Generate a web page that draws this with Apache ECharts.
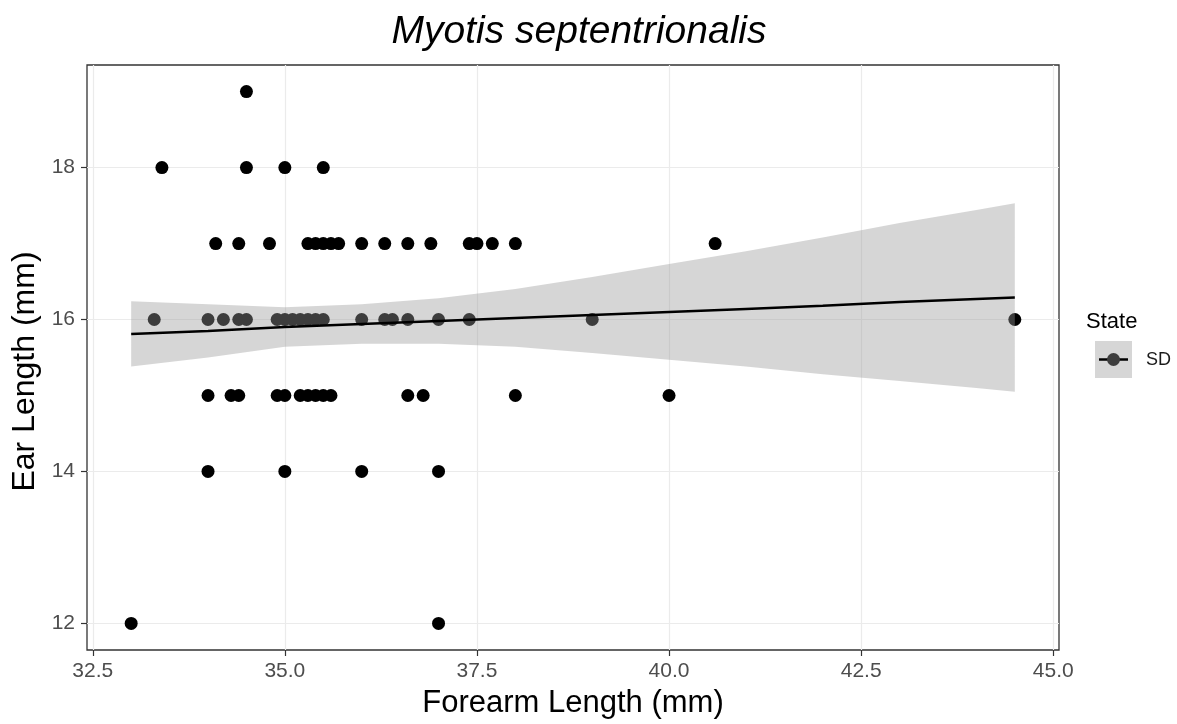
<!DOCTYPE html>
<html>
<head>
<meta charset="utf-8">
<script src="https://cdn.jsdelivr.net/npm/echarts@6/dist/echarts.min.js"></script>
<style>
  html, body { margin: 0; padding: 0; background: #fff; }
  #chart { width: 1177px; height: 724px; }
</style>
</head>
<body>
<div id="chart"></div>
<script>
// forearm / ear measurements, grouped by ear length
const ear19 = [34.5]
const ear18 = [33.4, 34.5, 35.0, 35.5]
const ear17 = [34.1, 34.4, 34.8, 35.3, 35.4, 35.5, 35.6, 35.7, 36.0, 36.3, 36.6, 36.9, 37.4, 37.5, 37.7, 38.0, 40.6]
const ear16 = [33.3, 34.0, 34.2, 34.4, 34.5, 34.9, 35.0, 35.1, 35.2, 35.3, 35.4, 35.5, 36.0, 36.3, 36.4, 36.6, 37.0, 37.4, 39.0, 44.5]
const ear15 = [34.0, 34.3, 34.4, 34.9, 35.0, 35.2, 35.3, 35.4, 35.5, 35.6, 36.6, 36.8, 38.0, 40.0]
const ear14 = [34.0, 35.0, 36.0, 37.0]
const ear12 = [33.0, 37.0]

// lm fit and its confidence band
const fitX = [33, 34, 35, 36, 37, 38, 39, 40, 41, 42, 43, 44, 44.5]
const fitY = [15.81, 15.85, 15.90, 15.94, 15.98, 16.02, 16.06, 16.10, 16.14, 16.18, 16.23, 16.27, 16.29]
const bandLow = [15.38, 15.50, 15.64, 15.68, 15.68, 15.64, 15.56, 15.47, 15.38, 15.28, 15.19, 15.10, 15.05]
const bandHigh = [16.24, 16.20, 16.16, 16.20, 16.28, 16.40, 16.56, 16.73, 16.90, 17.08, 17.27, 17.44, 17.53]

const xTicks = [32.5, 35.0, 37.5, 40.0, 42.5, 45.0]
const yTicks = [12, 14, 16, 18]

const FONT = 'Liberation Sans, Arial, sans-serif'

function pairs(xs, y) {
  return xs.map(x => [x, y])
}

const points = [].concat(
  pairs(ear19, 19), pairs(ear18, 18), pairs(ear17, 17), pairs(ear16, 16),
  pairs(ear15, 15), pairs(ear14, 14), pairs(ear12, 12)
)

// polygon of the se band: upper edge left->right, lower edge right->left
function renderBand(params, api) {
  if (params.dataIndex !== 0) return
  const pts = []
  for (let i = 0; i < fitX.length; i++) pts.push(api.coord([fitX[i], bandHigh[i]]))
  for (let i = fitX.length - 1; i >= 0; i--) pts.push(api.coord([fitX[i], bandLow[i]]))
  return {
    type: 'polygon',
    shape: { points: pts },
    style: { fill: 'rgba(153,153,153,0.4)' }
  }
}

const chart = echarts.init(document.getElementById('chart'))

const option = {
  backgroundColor: '#fff',
  animation: false,
  title: {
    text: 'Myotis septentrionalis',
    left: 574,
    top: 8,
    textAlign: 'center',
    textStyle: { fontFamily: FONT, fontStyle: 'italic', fontWeight: 'normal', fontSize: 39, color: '#000' }
  },
  grid: {
    left: 87, right: 118, top: 65, bottom: 71,
    show: true, borderColor: '#333', borderWidth: 1.3, backgroundColor: '#fff'
  },
  xAxis: {
    type: 'value',
    min: 32.425,
    max: 45.075,
    name: 'Forearm Length (mm)',
    nameLocation: 'middle',
    nameGap: 38,
    nameTextStyle: { fontFamily: FONT, fontSize: 31, color: '#000' },
    axisLine: { show: false },
    axisTick: { show: true, length: 6, customValues: xTicks, lineStyle: { color: '#333', width: 1.2 } },
    axisLabel: {
      customValues: xTicks, margin: 11,
      fontFamily: FONT, fontSize: 21, color: '#4d4d4d',
      formatter: v => v.toFixed(1)
    },
    splitLine: { show: true, customValues: xTicks, lineStyle: { color: '#ebebeb', width: 1.2 } }
  },
  yAxis: {
    type: 'value',
    min: 11.65,
    max: 19.35,
    name: 'Ear Length (mm)',
    nameLocation: 'middle',
    nameGap: 41,
    nameTextStyle: { fontFamily: FONT, fontSize: 32, color: '#000', padding: [0, 28, 0, 0] },
    axisLine: { show: false },
    axisTick: { show: true, length: 6, customValues: yTicks, lineStyle: { color: '#333', width: 1.2 } },
    axisLabel: { customValues: yTicks, margin: 12, fontFamily: FONT, fontSize: 21, color: '#4d4d4d' },
    splitLine: { show: true, customValues: yTicks, lineStyle: { color: '#ebebeb', width: 1.2 } }
  },
  series: [
    {
      name: 'SD',
      type: 'scatter',
      data: points,
      symbol: 'circle',
      symbolSize: 13,
      itemStyle: { color: '#000', opacity: 1 },
      z: 2
    },
    {
      name: 'band',
      type: 'custom',
      data: [0],
      renderItem: renderBand,
      silent: true,
      z: 3
    },
    {
      name: 'fit',
      type: 'line',
      data: fitX.map((x, i) => [x, fitY[i]]),
      showSymbol: false,
      lineStyle: { color: '#000', width: 2.5 },
      z: 4
    }
  ],
  graphic: [
    {
      type: 'text', left: 1086, top: 311,
      style: { text: 'State', fontFamily: FONT, fontSize: 22, fill: '#000' }
    },
    {
      type: 'rect', shape: { x: 1095, y: 341, width: 37, height: 37 },
      style: { fill: '#d6d6d6' }
    },
    {
      type: 'line', shape: { x1: 1099, y1: 359.5, x2: 1128, y2: 359.5 },
      style: { stroke: '#000', lineWidth: 2.5 }
    },
    {
      type: 'circle', shape: { cx: 1113.5, cy: 359.5, r: 6.5 },
      style: { fill: '#3d3d3d' }
    },
    {
      type: 'text', left: 1146, top: 351,
      style: { text: 'SD', fontFamily: FONT, fontSize: 18, fill: '#1a1a1a' }
    }
  ]
}

chart.setOption(option)
</script>
</body>
</html>
